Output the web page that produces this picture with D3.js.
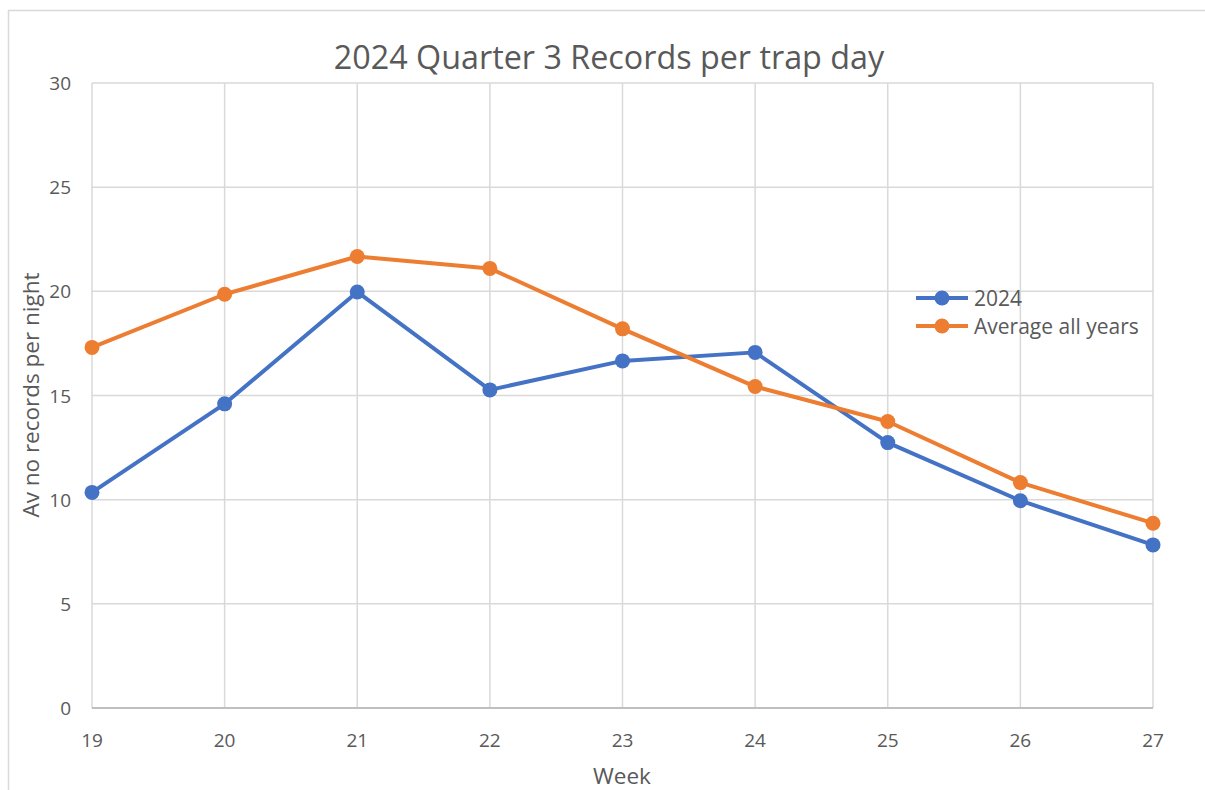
<!DOCTYPE html>
<html><head><meta charset="utf-8">
<script src="https://cdn.jsdelivr.net/npm/d3@7"></script>
<style>body{margin:0;background:#fff}svg{display:block}text{font-family:"Open Sans",sans-serif;fill:#595959}</style>
</head><body>
<script>
const weeks = [19,20,21,22,23,24,25,26,27];
const series2024 = [10.35,14.6,19.97,15.27,16.66,17.07,12.74,9.95,7.83];
const seriesAvg = [17.31,19.86,21.67,21.1,18.2,15.43,13.75,10.82,8.87];
const yTicks = [0,5,10,15,20,25,30];
const seriesNames = ["2024","Average all years"];
const colors = ["#4472C4","#ED7D31"];

const W=1205,H=790;
const svg=d3.select("body").append("svg").attr("width",W).attr("height",H);
svg.append("rect").attr("x",8.5).attr("y",10.5).attr("width",1210).attr("height",800)
  .attr("fill","#fff").attr("stroke","#d9d9d9").attr("stroke-width",1.5);

const x=d3.scaleLinear().domain([19,27]).range([92,1153]);
const y=d3.scaleLinear().domain([0,30]).range([708,83]);

// grid
svg.append("g").selectAll("line.h").data(yTicks.filter(d=>d>0)).join("line")
  .attr("x1",x(19)).attr("x2",x(27)).attr("y1",d=>y(d)).attr("y2",d=>y(d))
  .attr("stroke","#d9d9d9").attr("stroke-width",1.5);
svg.append("g").selectAll("line.v").data(weeks).join("line")
  .attr("x1",d=>x(d)).attr("x2",d=>x(d)).attr("y1",y(30)).attr("y2",y(0))
  .attr("stroke","#d9d9d9").attr("stroke-width",1.5);
svg.append("line").attr("x1",x(19)).attr("x2",x(27)).attr("y1",y(0)).attr("y2",y(0))
  .attr("stroke","#bfbfbf").attr("stroke-width",2);

// axes labels
svg.append("g").selectAll("text").data(yTicks).join("text")
  .attr("x",71).attr("y",d=>y(d)+7).attr("text-anchor","end").attr("font-size",19).text(d=>d);
svg.append("g").selectAll("text").data(weeks).join("text")
  .attr("x",d=>x(d)).attr("y",747).attr("text-anchor","middle").attr("font-size",19).text(d=>d);

svg.append("text").attr("x",622).attr("y",784).attr("text-anchor","middle").attr("font-size",22.5).text("Week");
svg.append("text").attr("transform","translate(39,395) rotate(-90)").attr("text-anchor","middle")
  .attr("font-size",22.5).text("Av no records per night");
svg.append("text").attr("x",609).attr("y",69).attr("text-anchor","middle").attr("font-size",32.3).text("2024 Quarter 3 Records per trap day");

const line=d3.line().x((d,i)=>x(weeks[i])).y(d=>y(d));
[series2024,seriesAvg].forEach((s,k)=>{
  svg.append("path").datum(s).attr("d",line).attr("fill","none").attr("stroke",colors[k])
    .attr("stroke-width",4).attr("stroke-linejoin","round");
  svg.append("g").selectAll("circle").data(s).join("circle")
    .attr("cx",(d,i)=>x(weeks[i])).attr("cy",d=>y(d)).attr("r",7.5).attr("fill",colors[k]);
});

// legend
const lg=svg.append("g");
seriesNames.forEach((n,k)=>{
  const yy=298+k*28;
  lg.append("line").attr("x1",916).attr("x2",968).attr("y1",yy).attr("y2",yy).attr("stroke",colors[k]).attr("stroke-width",4);
  lg.append("circle").attr("cx",942).attr("cy",yy).attr("r",7.5).attr("fill",colors[k]);
  lg.append("text").attr("x",974).attr("y",yy+7.5).attr("font-size",21).text(n);
});
</script>
</body></html>
